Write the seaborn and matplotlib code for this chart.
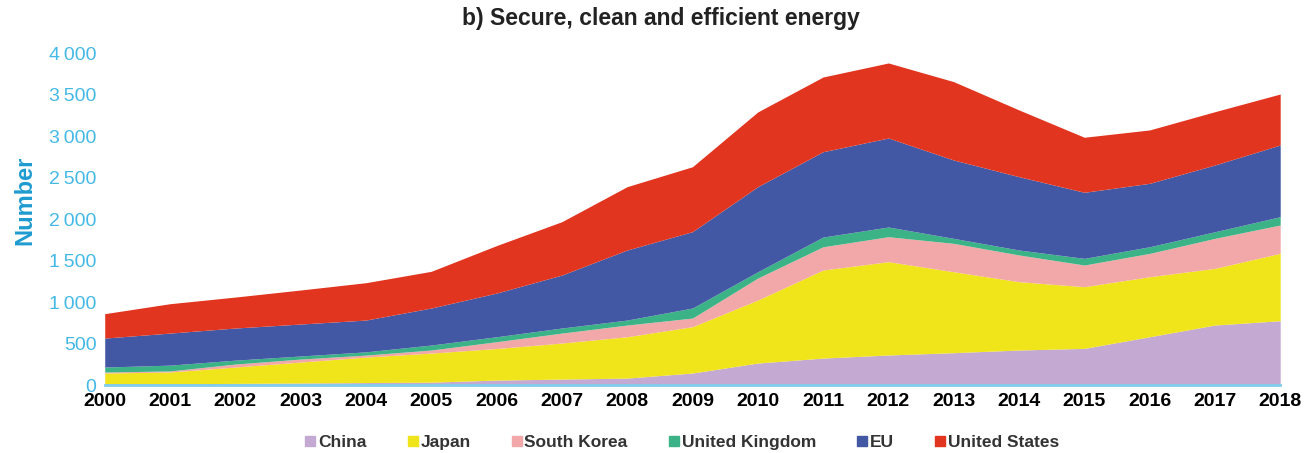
import numpy as np
import pandas as pd
import matplotlib
matplotlib.use("Agg")
import matplotlib.pyplot as plt
from matplotlib.ticker import FuncFormatter
import seaborn as sns

# Données
years = list(range(2000, 2019))
china = [15, 15, 20, 25, 30, 35, 60, 72, 84, 145, 265, 325, 362, 390, 422, 442, 582, 723, 775]
japan = [130, 142, 197, 252, 307, 350, 380, 434, 498, 558, 759, 1061, 1124, 975, 823, 743, 723, 683, 812]
south_korea = [12, 13, 36, 36, 24, 37, 82, 120, 141, 104, 265, 280, 301, 342, 322, 261, 281, 361, 341]
united_kingdom = [60, 70, 47, 37, 39, 60, 60, 61, 60, 121, 76, 117, 117, 60, 60, 80, 80, 80, 100]
eu = [349, 386, 387, 385, 383, 446, 526, 638, 844, 920, 1025, 1028, 1072, 944, 883, 796, 764, 804, 864]
united_states = [294, 354, 373, 410, 450, 442, 572, 643, 763, 782, 900, 900, 904, 944, 804, 663, 643, 642, 614]

series_names = ['China', 'Japan', 'South Korea', 'United Kingdom', 'EU', 'United States']
colors = ['#C4AAD2', '#F0E41A', '#F2A8A8', '#3BB386', '#4358A4', '#E23520']

df = pd.DataFrame({
    'China': china,
    'Japan': japan,
    'South Korea': south_korea,
    'United Kingdom': united_kingdom,
    'EU': eu,
    'United States': united_states,
}, index=years)

sns.set_theme(style='white')
plt.rcParams['font.family'] = ['Liberation Sans', 'DejaVu Sans']

fig = plt.figure(figsize=(13.09, 4.53), dpi=100)
ax = fig.add_axes([0.080, 0.150, 0.898, 0.733])

ax.stackplot(df.index, [df[c] for c in series_names], colors=sns.color_palette(colors),
             labels=series_names, linewidth=0)

ax.set_xlim(2000, 2018)
ax.set_ylim(0, 4000)
ax.set_xticks(years)
ax.set_xticklabels([str(y) for y in years], fontsize=14, fontweight='bold', color='black')
ax.set_yticks(range(0, 4001, 500))
ax.yaxis.set_major_formatter(FuncFormatter(lambda v, p: f"{int(v):,}".replace(',', '\u2009')))
ax.tick_params(axis='y', labelsize=14, labelcolor='#45B9E6', length=0, pad=6)
ax.tick_params(axis='x', length=0, pad=6)

for side in ['top', 'right', 'left']:
    ax.spines[side].set_visible(False)
ax.spines['bottom'].set_color('#7FCDEB')
ax.spines['bottom'].set_linewidth(2)

ax.set_ylabel('Number', fontsize=17, fontweight='bold', color='#1E9BD0')
ax.yaxis.set_label_coords(-0.058, 0.557)
fig.suptitle('b) Secure, clean and efficient energy', fontsize=16.5, fontweight='bold',
             color='#222222', x=0.505, y=0.985)

handles = [plt.Line2D([0], [0], marker='s', linestyle='', markersize=7,
                      markerfacecolor=c, markeredgecolor=c) for c in colors]
leg = ax.legend(handles, series_names, loc='center', bbox_to_anchor=(0.490, -0.172),
                ncol=6, frameon=False, handletextpad=0.0, columnspacing=2.2,
                handlelength=0.9, prop={'size': 12.5, 'weight': 'bold'})
for t in leg.get_texts():
    t.set_color('#333333')

fig.savefig('out.png', dpi=100)
